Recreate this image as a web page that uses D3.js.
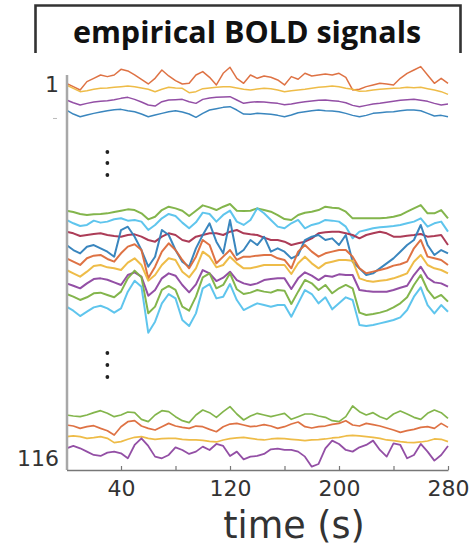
<!DOCTYPE html>
<html><head><meta charset="utf-8">
<script src="https://cdn.jsdelivr.net/npm/d3@7"></script>
<style>
html,body{margin:0;padding:0;background:#fff;}
svg{display:block;}
</style></head>
<body>
<svg id="chart" width="473" height="549"></svg>
<script>
// ---------- DATA ----------
const time = [0,5,10,15,20,25,30,35,40,45,50,55,60,65,70,75,80,85,90,95,100,105,110,115,120,125,130,135,140,145,150,155,160,165,170,175,180,185,190,195,200,205,210,215,220,225,230,235,240,245,250,255,260,265,270,275,280];
const xTicks = [40,80,120,160,200,240,280];
const xTickLabels = ["40","","120","","200","","280"];
const channelLabels = ["1","116"];
const channelTicks = [1,116];
const xLabel = "time (s)";
const title = "empirical BOLD signals";

// top block (channels near 1)
const topOrange = [-15,-25,-35,-10,0,10,5,10,27,22,10,-3,-17,0,25,7,-7,-17,-15,10,20,3,-20,15,33,0,-15,10,0,7,3,-5,-20,5,-3,15,7,10,13,10,15,3,-35,-33,-25,-20,-15,-17,-20,0,15,25,35,10,-15,0,-15];
const topYellow = [12,2,-8,-5,-1,2,3,5,7,9,7,3,-1,-8,-1,5,3,2,-11,-8,1,3,5,7,7,3,-1,-3,0,2,1,-3,-8,-5,-3,-1,2,5,7,9,7,2,-1,-7,-6,-3,-1,1,2,3,5,4,5,1,-3,-8,-16];
const topPurple = [5,-3,-10,-5,-1,1,3,6,10,13,7,-1,-10,-13,0,5,6,7,0,-5,7,11,13,14,15,5,-5,-2,0,-1,-3,-5,-9,-7,-3,0,2,4,5,3,1,-3,-11,-15,-11,-7,-5,-2,1,4,6,7,4,1,-5,-10,-7];
const topBlue = [8,-4,-12,-7,-2,2,6,9,10,6,3,-4,-12,-7,-2,3,6,2,-4,-14,-2,8,12,16,18,8,-4,-5,-2,-3,-5,-8,-12,-7,0,3,6,8,6,5,3,-2,-8,-12,-8,-2,0,2,3,6,8,8,6,-2,-10,-8,-12];

// middle block
const midGreen1 = [3,-1,-7,-10,-8,-7,-5,-1,3,7,5,-5,-23,-15,5,15,10,3,-13,3,19,13,5,15,23,3,2,3,10,5,0,-10,-22,-25,-10,-3,0,5,15,12,10,0,-20,-20,-20,-20,-20,-18,-15,-10,0,10,20,-5,-5,5,-20];
const midLightBlue1 = [10,0,-8,-5,8,2,5,12,15,8,10,5,-20,-5,15,28,22,2,-15,3,32,28,5,25,38,5,-5,10,45,30,10,-10,-15,0,10,-15,-5,0,10,8,5,-10,-45,-25,-20,-15,-12,-10,-8,-5,0,5,15,-10,0,5,-25];
const midRed = [10,5,-3,0,3,5,0,-3,-5,0,2,-5,-15,-20,-5,5,0,-15,-20,-5,0,5,5,0,10,15,5,2,0,-8,-15,-15,-20,-30,-25,-20,-10,5,8,10,10,5,0,-10,0,5,10,5,-5,-5,-2,0,3,-5,-3,0,-30];
const midBlue = [5,-10,-20,0,5,-5,-15,-30,50,60,30,-10,-60,-30,50,35,-10,-45,-60,-5,35,70,15,-20,80,-25,-10,20,5,30,-15,-5,-15,-35,-25,20,30,35,20,25,5,35,-45,-65,-85,-80,-65,-50,-35,-15,5,20,65,5,-25,-10,-20];
const midOrange = [0,-10,-20,0,8,10,-2,-10,15,35,42,25,-60,-25,20,45,25,-5,-30,5,55,40,-15,5,25,-5,5,5,8,10,10,0,-5,-30,20,40,20,5,15,20,25,25,5,-30,-45,-40,-35,-30,-22,-18,-10,30,55,5,0,-5,-20];
const midYellow = [0,-10,-20,-5,12,15,8,5,0,22,35,15,-32,-15,15,35,30,-5,-22,5,55,40,8,15,40,20,5,5,10,15,15,15,15,-12,20,40,20,5,20,25,30,30,28,-25,-32,-35,-32,-30,-25,-18,-10,25,45,15,5,0,-10];
const midPurple = [-5,-12,-20,-5,8,10,6,-2,-10,20,28,15,-42,-25,10,25,18,-10,-32,-8,35,25,2,12,30,5,-5,-10,-5,5,8,10,10,-22,10,28,18,5,18,15,22,20,20,-25,-28,-30,-30,-30,-25,-18,-12,20,45,12,-2,-5,-15];
const midGreen2 = [-2,-10,-20,-12,0,2,-5,-12,5,45,68,48,-60,-40,10,22,10,-40,-52,-10,48,60,15,25,60,12,-2,2,10,5,2,10,8,-32,5,40,30,10,25,0,15,25,15,-58,-65,-62,-58,-52,-42,-30,-12,25,55,10,-15,-5,-25];
const midLightBlue2 = [0,-12,-28,-15,-2,3,-5,-18,-5,45,78,60,-78,-45,10,38,25,-40,-58,-20,55,68,25,30,68,20,-10,0,10,5,0,5,5,-30,10,50,38,10,28,-8,10,28,20,-55,-58,-55,-50,-45,-40,-32,-10,30,58,5,-20,5,-15];

// bottom block (channels near 116)
const botGreen = [0,-3,-5,0,7,13,5,-5,0,9,7,-13,-20,0,13,10,-5,-17,-23,0,15,7,-7,10,25,3,-15,-3,5,0,-5,0,5,-13,-5,3,3,-3,-7,-17,-20,-5,27,10,0,7,-5,-13,3,12,3,-7,-13,5,15,7,-10];
const botOrange = [5,2,-5,0,3,-5,-12,-25,0,15,18,2,-5,-10,0,10,2,-2,-5,2,0,-8,-15,0,8,10,5,0,2,6,2,-5,0,8,14,0,-4,0,2,7,10,18,5,2,10,6,2,-4,-10,-17,-12,-8,-2,0,-5,10,-2];
const botYellow = [5,7,5,0,2,5,0,-13,-10,-3,3,5,0,-3,-1,0,0,-3,-5,-5,-6,-9,-11,-5,-1,1,3,0,-3,-5,-2,0,-1,-3,-5,-7,-5,-4,-2,1,3,7,9,7,5,3,0,-5,-7,-10,-12,-13,-11,-8,-2,-3,-10];
const botPurple = [15,22,15,5,-5,-8,2,5,0,-15,25,45,22,-10,-15,-5,18,10,-2,5,20,10,28,22,-8,5,-18,-10,-8,-2,12,14,10,10,5,-10,-40,-32,15,38,28,10,5,18,25,38,10,-10,30,25,-15,-5,28,5,-22,-5,22];

// stacking offsets of each trace (vertical plot units)
const offsets = [391.7,381,368.3,357.3, 258.3,246.7,235,223.3,211.7,200,188.3,176.7,163.3, 55,43.3,31.7,16.7];
// ellipsis rows
const dotTime = 30;
const dotLevels = [318,307,295,117,105,93];

// ---------- STYLE ----------
const C = {orange:"#DC6A3A", yellow:"#EDB83E", purple:"#8D46A0", blue:"#2F80BA",
           green:"#7CB142", lblue:"#56C2EC", red:"#A8324E"};
const traces = [
  [topOrange,C.orange,1.5],[topYellow,C.yellow,1.5],[topPurple,C.purple,1.5],[topBlue,C.blue,1.5],
  [midGreen1,C.green,2],[midLightBlue1,C.lblue,2],[midRed,C.red,2],[midBlue,C.blue,2],[midOrange,C.orange,2],
  [midYellow,C.yellow,2],[midPurple,C.purple,2],[midGreen2,C.green,2],[midLightBlue2,C.lblue,2],
  [botGreen,C.green,1.7],[botOrange,C.orange,1.7],[botYellow,C.yellow,1.7],[botPurple,C.purple,1.8]
];

// ---------- DRAW ----------
const svg = d3.select("#chart");
const x = d3.scaleLinear().domain([0,280]).range([66.5,448]);
const y = d3.scaleLinear().domain([0,395]).range([470,75]);
const amp = d3.scaleLinear().domain([0,3]).range([0,1]);
const ch = d3.scaleLinear().domain([1,116]).range([84,458]);

// title box
svg.append("path").attr("d","M35.5,53 V5.5 H460.5 V53")
  .attr("fill","none").attr("stroke","#333").attr("stroke-width",2.6);
svg.append("text").attr("x",247).attr("y",43).attr("text-anchor","middle")
  .attr("font-family","'Open Sans', sans-serif").attr("font-weight",700)
  .attr("font-size",30.5).attr("fill","#111").text(title);

// traces
traces.forEach((t,i)=>{
  const off = offsets[i];
  const line = d3.line().x((d,j)=>x(time[j])).y(d=>y(off + amp(d)));
  svg.append("path").datum(t[0]).attr("d",line)
    .attr("fill","none").attr("stroke",t[1]).attr("stroke-width",t[2])
    .attr("stroke-linejoin","round").attr("opacity",0.95);
});

// ellipsis dots
svg.selectAll("circle.dot").data(dotLevels).join("circle")
  .attr("cx",x(dotTime)).attr("cy",d=>y(d)).attr("r",1.9).attr("fill","#222");

// y axis line
svg.append("line").attr("x1",67).attr("x2",67).attr("y1",y(395)).attr("y2",y(0))
  .attr("stroke","#a8a8a8").attr("stroke-width",2.5);
// y labels
const ya = svg.append("g").attr("transform","translate(59,0)")
  .call(d3.axisLeft(ch).tickValues(channelTicks).tickSize(0).tickPadding(0)
        .tickFormat((d,i)=>channelLabels[i]));
ya.select(".domain").remove();
ya.selectAll("text").attr("font-family","'DejaVu Sans', sans-serif").attr("font-size",22).attr("fill","#333");
svg.append("line").attr("x1",53).attr("x2",57).attr("y1",ch(11.6)).attr("y2",ch(11.6))
  .attr("stroke","#bbb").attr("stroke-width",1);

// x axis
const xa = svg.append("g").attr("transform","translate(0,470)")
  .call(d3.axisBottom(x).tickValues(xTicks).tickSizeInner(-4).tickSizeOuter(0).tickPadding(10)
        .tickFormat((d,i)=>xTickLabels[i]));
xa.select(".domain").attr("stroke","#777").attr("stroke-width",1.5);
xa.selectAll(".tick line").attr("stroke","#777").attr("stroke-width",1.2);
xa.selectAll("text").attr("font-family","'DejaVu Sans', sans-serif").attr("font-size",22).attr("fill","#333");

svg.append("text").attr("x",294).attr("y",538).attr("text-anchor","middle")
  .attr("font-family","'DejaVu Sans', sans-serif").attr("font-size",36.5).attr("fill","#333")
  .text(xLabel);
</script>
</body></html>
